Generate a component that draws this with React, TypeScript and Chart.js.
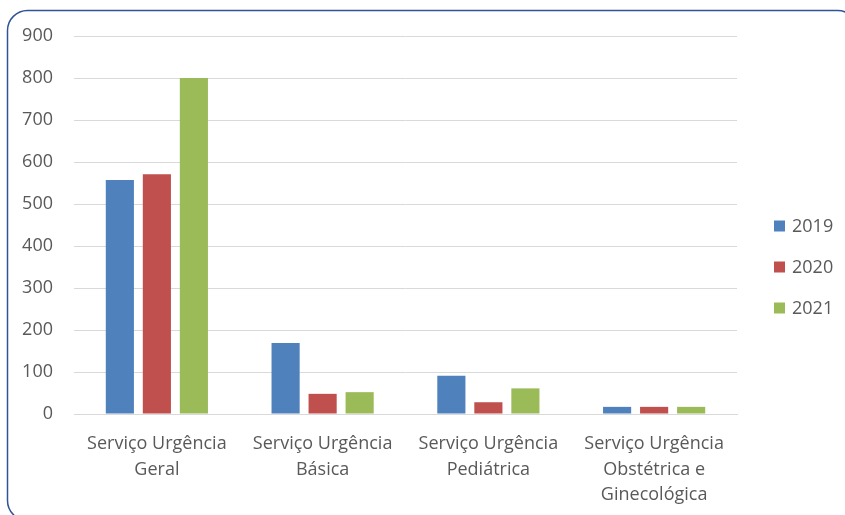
import React, { useEffect, useRef } from "react";
import { Chart, registerables } from "chart.js";

Chart.register(...registerables);

const categories: string[][] = [
  ["Serviço Urgência", "Geral"],
  ["Serviço Urgência", "Básica"],
  ["Serviço Urgência", "Pediátrica"],
  ["Serviço Urgência", "Obstétrica e", "Ginecológica"],
];
const seriesLabels = ["2019", "2020", "2021"];
const values2019 = [557, 169, 91, 17];
const values2020 = [571, 48, 28, 17];
const values2021 = [800, 52, 61, 17];
const seriesColors = ["#4F81BD", "#C0504D", "#9BBB59"];
const yMin = 0;
const yMax = 900;
const yStep = 100;

const FONT = "'Open Sans', sans-serif";
const TEXT = "#595959";

const framePlugin = {
  id: "frame",
  afterDraw(chart: any) {
    const ctx = chart.ctx;
    ctx.save();
    ctx.strokeStyle = "#2F5597";
    ctx.lineWidth = 1.5;
    ctx.beginPath();
    ctx.roundRect(7.5, 10.5, 850, 510, 20);
    ctx.stroke();
    ctx.restore();
  },
};

const legendPlugin = {
  id: "customLegend",
  afterDraw(chart: any) {
    const ctx = chart.ctx;
    const area = chart.chartArea;
    const x = area.right + 37;
    const midY = (area.top + area.bottom) / 2 + 42;
    ctx.save();
    ctx.font = `18px ${FONT}`;
    ctx.textBaseline = "middle";
    ctx.textAlign = "left";
    chart.data.datasets.forEach((ds: any, i: number) => {
      const cy = midY + (i - 1) * 41;
      ctx.fillStyle = ds.backgroundColor;
      ctx.fillRect(x, cy - 5.5, 11, 11);
      ctx.fillStyle = TEXT;
      ctx.fillText(ds.label, x + 18, cy + 1);
    });
    ctx.restore();
  },
};

export default function App() {
  const ref = useRef<HTMLCanvasElement | null>(null);
  useEffect(() => {
    if (!ref.current) return;
    const datasets = [values2019, values2020, values2021].map((vals, i) => ({
      label: seriesLabels[i],
      data: vals,
      backgroundColor: seriesColors[i],
      borderWidth: 0,
      categoryPercentage: 0.67,
      barPercentage: 0.76,
    }));
    const chart = new Chart(ref.current, {
      type: "bar",
      data: { labels: categories as any, datasets },
      options: {
        responsive: false,
        animation: false,
        devicePixelRatio: 1,
        layout: { padding: { left: 0, right: 108, top: 36, bottom: 0 } },
        plugins: {
          legend: { display: false },
          tooltip: { enabled: false },
        },
        scales: {
          x: {
            grid: { display: false, drawTicks: false },
            border: { display: true, color: "#D9D9D9", width: 1 },
            ticks: {
              color: TEXT,
              font: { family: FONT, size: 18, lineHeight: 1.43 },
              padding: 17,
              maxRotation: 0,
              autoSkip: false,
            },
            afterFit(scale: any) {
              scale.height = 101;
            },
          },
          y: {
            min: yMin,
            max: yMax,
            grid: { color: "#D9D9D9", lineWidth: 1, drawTicks: false },
            border: { display: false },
            ticks: {
              stepSize: yStep,
              color: TEXT,
              font: { family: FONT, size: 18 },
              padding: 21,
            },
            afterFit(scale: any) {
              scale.width = 74;
            },
          },
        },
      },
      plugins: [framePlugin, legendPlugin],
    });
    return () => chart.destroy();
  }, []);
  return (
    <div
      style={{
        position: "fixed",
        left: 0,
        top: 0,
        width: 845,
        height: 515,
        overflow: "hidden",
        background: "#fff",
      }}
    >
      <canvas ref={ref} width={845} height={515} style={{ display: "block" }} />
    </div>
  );
}
